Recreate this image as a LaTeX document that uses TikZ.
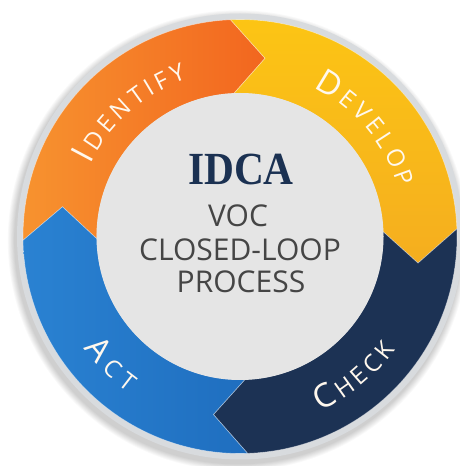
\documentclass[tikz,border=0pt]{standalone}
\usepackage{fontspec}
\setmainfont{Open Sans}
\newfontfamily\ringfont{Open Sans}
\newfontfamily\idcafont{Liberation Serif}
\usetikzlibrary{decorations.text}
\definecolor{cOrangeA}{HTML}{F7932F}
\definecolor{cOrangeB}{HTML}{F2661F}
\definecolor{cYellowA}{HTML}{FCC514}
\definecolor{cYellowB}{HTML}{F5AE1F}
\definecolor{cNavy}{HTML}{1C3254}
\definecolor{cBlueA}{HTML}{2A82D2}
\definecolor{cBlueB}{HTML}{1F6EBF}
\definecolor{cInner}{HTML}{E5E5E5}
\definecolor{cBorder}{HTML}{D8DBDE}
\definecolor{cIdca}{HTML}{1B3152}
\definecolor{cCenterText}{HTML}{454545}
\definecolor{cRingText}{HTML}{FFF8EE}
\newcommand\RingBig{\ringfont\fontsize{33}{33}\selectfont\color{cRingText}}
\newcommand\RingSmall{\ringfont\fontsize{24}{24}\selectfont\color{cRingText}}
\newcommand\RingSeg[3]{\path[#3] (#1:217pt) arc[start angle=#1, end angle=#2, radius=217pt] -- ({#2-10.5}:180pt) -- (#2:143pt) arc[start angle=#2, end angle=#1, radius=143pt] -- ({#1-10.5}:180pt) -- cycle;}
\tikzset{
  segedge/.style={draw=white, draw opacity=0.45, line width=0.6pt},
  centertext/.style={anchor=base, text=cCenterText, font=\fontsize{30}{30}\selectfont},
  ringlabel/.style={decorate, decoration={text along path, text align=center, text={#1}}}
}
\begin{document}
\begin{tikzpicture}[x=1pt,y=1pt]
\useasboundingbox (0,0) rectangle (459,466);
\fill[white] (0,0) rectangle (459,466);
\begin{scope}[shift={(240,229.5)}]
  \foreach \k in {1,...,8} \fill[black, opacity=0.025] (-2,-4) circle[radius={223+\k*0.9}];
  \fill[cBorder] (0,0) circle[radius=223];
  \RingSeg{181}{92.5}{shade, left color=cOrangeA, right color=cOrangeB, segedge}
  \RingSeg{92.5}{2}{shade, top color=cYellowA, bottom color=cYellowB, segedge}
  \RingSeg{2}{-88}{fill=cNavy, segedge}
  \RingSeg{-88}{-179}{shade, left color=cBlueA, right color=cBlueB, segedge}
  \fill[cInner] (0,0) circle[radius=143.5];
  \path[ringlabel={|\RingBig|{I\kern4pt}|\RingSmall|{D\kern4pt}{E\kern4pt}{N\kern4pt}{T\kern4pt}{I\kern4pt}{F\kern4pt}Y}]
    (176.5:166pt) arc[start angle=176.5, end angle=86.5, radius=166pt];
  \path[ringlabel={|\RingBig|{D\kern4pt}|\RingSmall|{E\kern4pt}{V\kern4pt}{E\kern4pt}{L\kern4pt}{O\kern4pt}P}]
    (85.5:166pt) arc[start angle=85.5, end angle=-4.5, radius=166pt];
  \path[ringlabel={|\RingBig|{C\kern4pt}|\RingSmall|{H\kern4pt}{E\kern4pt}{C\kern4pt}K}]
    (-95.7:192pt) arc[start angle=-95.7, end angle=-5.7, radius=192pt];
  \path[ringlabel={|\RingBig|{A\kern7pt}|\RingSmall|{C\kern7pt}T}]
    (-180:192pt) arc[start angle=-180, end angle=-90, radius=192pt];
  \node[anchor=base, text=cIdca, font=\idcafont\bfseries\fontsize{46}{46}\selectfont] (idca) at (1,51.5) {\scalebox{0.9}[1]{IDCA}};
  \node[centertext] (voc) at (-2,9.5) {VOC};
  \node[centertext] (closed) at (0,-24.5) {CLOSED-LOOP};
  \node[centertext] (process) at (1,-56.5) {PROCESS};
\end{scope}
\end{tikzpicture}
\end{document}
